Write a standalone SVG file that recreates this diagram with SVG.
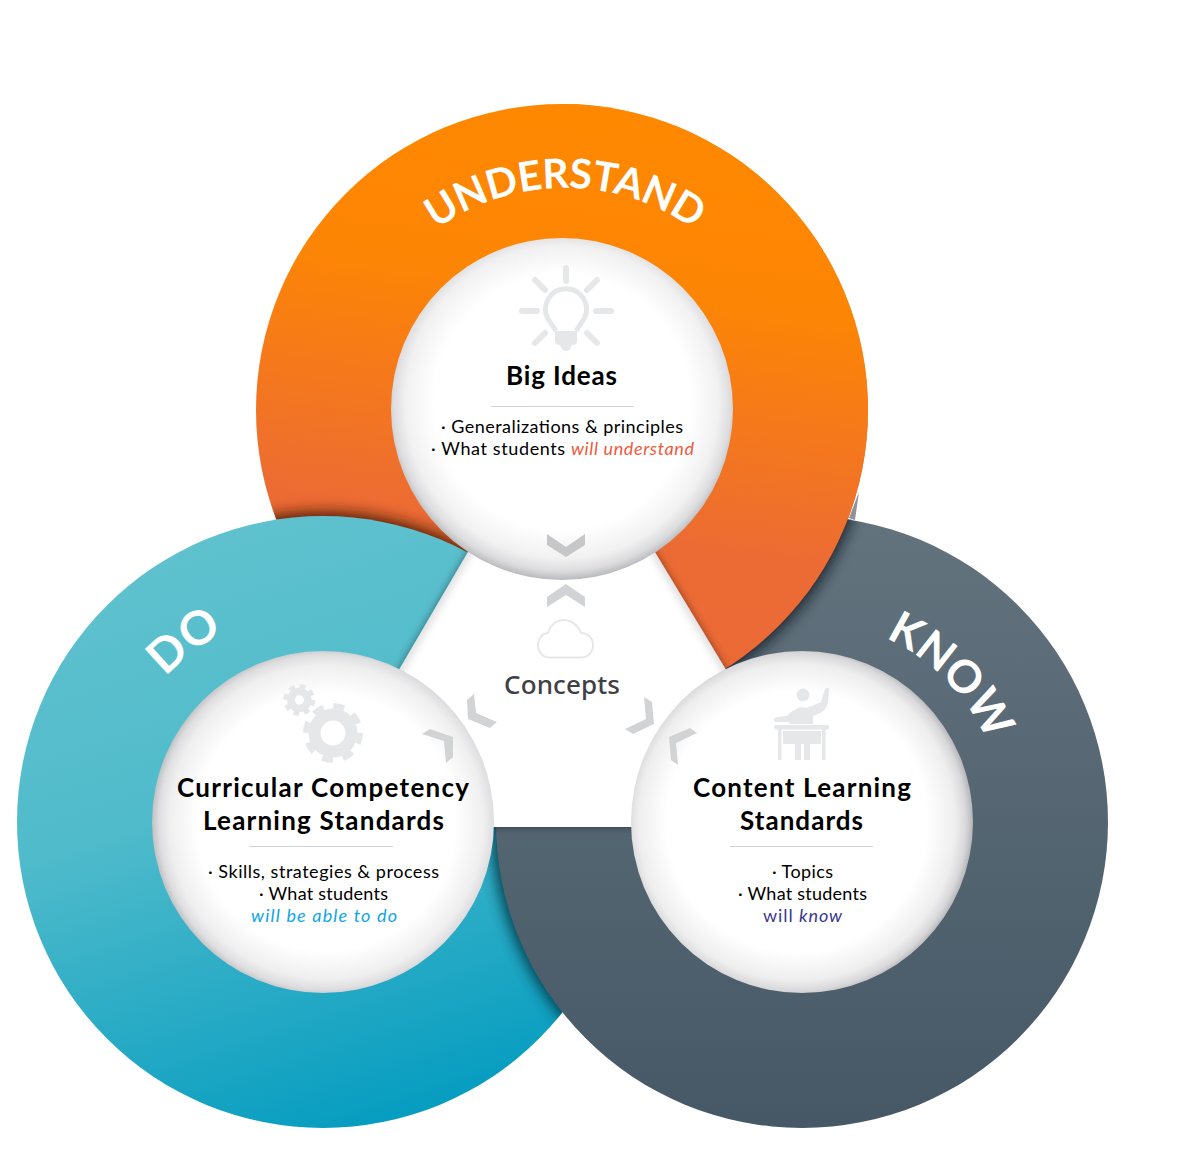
<svg xmlns="http://www.w3.org/2000/svg" width="1190" height="1169" viewBox="0 0 1190 1169">
<style>
.title{font-family:"Lato","Liberation Sans",sans-serif;font-weight:700;font-size:26px;fill:#000;text-anchor:middle}
.body{font-family:"Lato","Liberation Sans",sans-serif;font-size:18px;fill:#000;text-anchor:middle}
.arc{font-family:"Lato","Liberation Sans",sans-serif;font-weight:700;fill:#fff;text-anchor:middle}
.ico{fill:#e6e7e8}
.ray{stroke:#e6e7e8;stroke-width:6;stroke-linecap:round;fill:none}
.chev{fill:#d1d3d4}
.rule{stroke:#d0d2d3;stroke-width:1}
.inner{stroke:none}
</style>
<defs>
<linearGradient id="gO" gradientUnits="userSpaceOnUse" x1="620" y1="104" x2="540" y2="716"><stop offset="0" stop-color="#ff8800"/><stop offset=".3" stop-color="#fd8505"/><stop offset=".7" stop-color="#ec6b34"/><stop offset="1" stop-color="#eb6836"/></linearGradient>
<linearGradient id="gT" gradientUnits="userSpaceOnUse" x1="210" y1="540" x2="400" y2="1128"><stop offset="0" stop-color="#5fc1ce"/><stop offset=".4" stop-color="#50bbcb"/><stop offset="1" stop-color="#049cc0"/></linearGradient>
<linearGradient id="gD" gradientUnits="userSpaceOnUse" x1="802" y1="516" x2="802" y2="1128"><stop offset="0" stop-color="#63737e"/><stop offset="1" stop-color="#465866"/></linearGradient>
<radialGradient id="gI1" cx=".5" cy=".48" r=".52"><stop offset=".72" stop-color="#fff"/><stop offset=".88" stop-color="#f1f1f2"/><stop offset=".95" stop-color="#dcdcde"/><stop offset="1" stop-color="#b8b9bc"/></radialGradient>
<radialGradient id="gI2" cx=".51" cy=".5" r=".51"><stop offset=".74" stop-color="#fff"/><stop offset=".9" stop-color="#efeff0"/><stop offset=".96" stop-color="#dedee0"/><stop offset="1" stop-color="#c0c1c3"/></radialGradient>
<radialGradient id="gI3" cx=".485" cy=".5" r=".515"><stop offset=".74" stop-color="#fff"/><stop offset=".9" stop-color="#eeeeef"/><stop offset=".96" stop-color="#d8d8da"/><stop offset="1" stop-color="#b4b5b8"/></radialGradient>
<filter id="b6" x="-20%" y="-20%" width="140%" height="140%"><feGaussianBlur stdDeviation="7"/></filter>
<filter id="b4" x="-20%" y="-20%" width="140%" height="140%"><feGaussianBlur stdDeviation="4"/></filter>
<filter id="tri" x="-10%" y="-10%" width="120%" height="120%"><feDropShadow dx="0" dy="0" stdDeviation="4" flood-color="#000" flood-opacity=".45"/></filter>
<clipPath id="cO"><circle cx="562" cy="410" r="306"/></clipPath>
<clipPath id="cT"><circle cx="323" cy="822" r="306"/></clipPath>
<clipPath id="cD"><circle cx="802" cy="822" r="306"/></clipPath>
<clipPath id="cR"><rect x="562" y="90" width="400" height="640"/></clipPath>
<clipPath id="cTri"><path d="M560 395L307 827H821Z"/></clipPath>
<path id="pU" d="M343 410A222 222 0 0 1 787 410"/>
<path id="pD" d="M109 822A214 214 0 0 1 537 822"/>
<path id="pK" d="M600 822A202 202 0 0 1 1004 822"/>
</defs>

<g id="rings">
<circle id="ring-understand" cx="562" cy="410" r="306" fill="url(#gO)"/>
<g clip-path="url(#cO)"><circle cx="323" cy="817" r="306" fill="#3a1500" opacity=".8" filter="url(#b6)"/></g>
<circle id="ring-do" cx="323" cy="822" r="306" fill="url(#gT)"/>
<g clip-path="url(#cT)"><circle cx="797" cy="822" r="306" fill="#00303f" opacity=".85" filter="url(#b6)"/></g>
<circle id="ring-know" cx="802" cy="822" r="306" fill="url(#gD)"/>
<g clip-path="url(#cD)"><circle cx="565" cy="413" r="306" fill="#10181e" opacity=".8" filter="url(#b6)"/></g>
<path d="M859 492L855 520L849 518Z" fill="#8d9398"/>
<circle cx="562" cy="410" r="306" fill="url(#gO)" clip-path="url(#cR)"/>
</g>

<g id="connectors">
<path d="M560 395L307 827H821Z" fill="#fff" filter="url(#tri)"/>
<g clip-path="url(#cTri)"><path d="M560 395L307 827M560 395L821 827" stroke="#000" stroke-opacity=".22" stroke-width="5" fill="none" filter="url(#b4)"/></g>
</g>

<text class="arc" font-size="41" letter-spacing="-.4"><textPath href="#pU" startOffset="50%">UNDERSTAND</textPath></text>
<text class="arc" font-size="47" transform="rotate(-37.5 323 822)"><textPath href="#pD" startOffset="50%">DO</textPath></text>
<text class="arc" font-size="45" transform="rotate(45.5 802 822)"><textPath href="#pK" startOffset="50%">KNOW</textPath></text>

<g id="node-big-ideas">
<circle class="inner" cx="562" cy="409" r="171" fill="url(#gI1)"/>
<g class="ray"><path d="M566 268V281M522 311H537M596 311H611M535 280L545 290M597 280L587 290M535 343L545 333M597 343L587 333"/></g>
<path d="M556 331L547.500 318A20.500 20.500 0 1 1 584.500 318L576 331" fill="none" stroke="#e6e7e8" stroke-width="5"/>
<path class="ico" d="M555 331H577V342Q577 345 572 345Q570 351 566 351Q562 351 560 345Q555 345 555 341Z"/>
<text class="title" x="561.500" y="385" textLength="111">Big Ideas</text>
<line class="rule" x1="491" y1="406.500" x2="634" y2="406.500"/>
<text class="body" x="562" y="433" textLength="242">· Generalizations &amp; principles</text>
<text class="body" x="562.500" y="455" textLength="263">· What students <tspan fill="#f05a3c" font-style="italic">will understand</tspan></text>
</g>

<g id="node-curricular">
<circle class="inner" cx="323" cy="822" r="171" fill="url(#gI2)"/>
<circle cx="333" cy="733" r="18.500" fill="none" stroke="#e6e7e8" stroke-width="12"/>
<circle cx="333" cy="733" r="27" fill="none" stroke="#e6e7e8" stroke-width="6" stroke-dasharray="11 10.200"/>
<circle cx="299.300" cy="700" r="8.500" fill="none" stroke="#e6e7e8" stroke-width="7.500"/>
<circle cx="299.300" cy="700" r="13.500" fill="none" stroke="#e6e7e8" stroke-width="5" stroke-dasharray="5.600 5"/>
<text class="title" x="323" y="797" textLength="292">Curricular Competency</text>
<text class="title" x="323.500" y="830" textLength="241">Learning Standards</text>
<line class="rule" x1="249" y1="846.500" x2="393" y2="846.500"/>
<text class="body" x="323.500" y="878" textLength="231">· Skills, strategies &amp; process</text>
<text class="body" x="323.500" y="900" textLength="129">· What students</text>
<text class="body" x="324" y="922" textLength="146" font-style="italic" style="fill:#0ea5e6">will be able to do</text>
</g>

<g id="node-content">
<circle class="inner" cx="802" cy="822" r="171" fill="url(#gI3)"/>
<circle class="ico" cx="803" cy="695" r="6.500"/>
<path class="ico" d="M791 712L800 707L807 708L821 702L825 689Q826 688 828 688Q830 688 829 690L828 703Q826 710 820 713L813 716V724H790L789 722H778Q774 722 774 720Q774 717 778 717L787 716Z"/>
<rect class="ico" x="774" y="725" width="55" height="4.500" rx="2"/>
<rect class="ico" x="778" y="729" width="3.500" height="31"/>
<rect class="ico" x="822" y="729" width="3.500" height="31"/>
<rect class="ico" x="783" y="731" width="38" height="13"/>
<rect class="ico" x="795" y="744" width="6" height="16"/>
<rect class="ico" x="804" y="744" width="6" height="16"/>
<text class="title" x="802" y="797" textLength="218">Content Learning</text>
<text class="title" x="801.500" y="830" textLength="123">Standards</text>
<line class="rule" x1="730" y1="846.500" x2="873" y2="846.500"/>
<text class="body" x="802.500" y="878" textLength="61">· Topics</text>
<text class="body" x="802.500" y="900" textLength="129">· What students</text>
<text class="body" x="802.500" y="922" textLength="79" style="fill:#3c3a8e">will <tspan font-style="italic">know</tspan></text>
</g>

<g id="node-concepts">
<path d="M549 657.500H581C588 657.500 593 652 593 645C593 638 588 633 581 633C577 622 565 617 556 622C551 625 549 629 548 633C542 633 538 639 538 645C538 652 543 657.500 549 657.500Z" fill="none" stroke="#e6e7e8" stroke-width="2"/>
<text x="562" y="694" text-anchor="middle" textLength="116" style="font-family:'Noto Sans','Open Sans',sans-serif;font-weight:500;font-size:26px;fill:#3f4045">Concepts</text>
</g>

<g id="chevrons">
<path d="M547 534L566 547L585 534V545L566 557L547 545Z" fill="#c5c7c9"/>
<path class="chev" d="M547 597L566 584L585 597V607L566 595L547 607Z"/>
<path class="chev" d="M467 700L474 694L476 713L497 722L490 728L468 719Z"/>
<path class="chev" d="M422 734L430 729L453 737V757L446 763L444 741Z"/>
<path class="chev" d="M644 697L652 702L654 724L633 734L625 729L646 719Z"/>
<path class="chev" d="M697 733L690 728L669 737L671 760L678 765L676 743Z"/>
</g>
</svg>
